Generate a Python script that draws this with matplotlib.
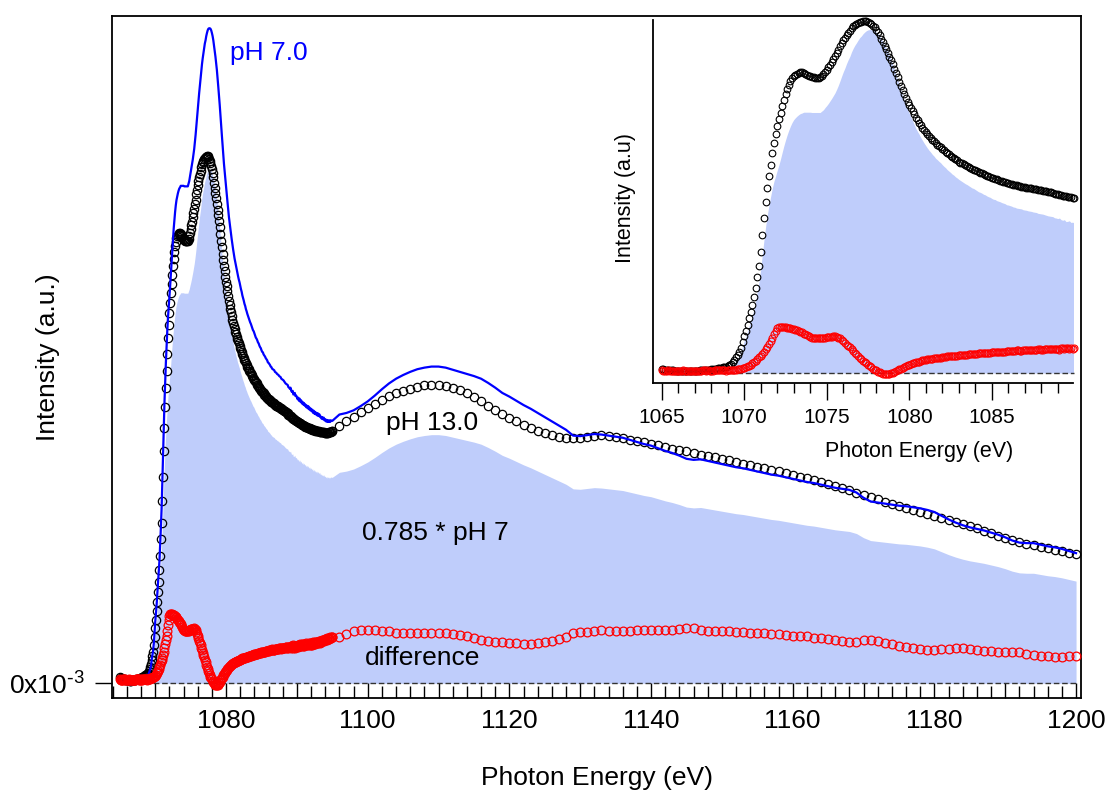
import numpy as np
import matplotlib
matplotlib.use('Agg')
import matplotlib.pyplot as plt
from matplotlib.ticker import MultipleLocator, FuncFormatter

plt.rcParams['font.family'] = ['Liberation Sans', 'DejaVu Sans']
plt.rcParams['mathtext.default'] = 'regular'

# photon energy grid (eV): 0.1 eV steps over the edge, 1 eV steps above 1095 eV
energy = np.round(np.concatenate([
    np.arange(1065.0, 1095.05, 0.1),
    np.arange(1096.0, 1200.5, 1.0),
]), 2)

# pH 13.0 spectrum (normalised to the white line), one row per eV below 1095
ph13 = np.array([
    0.012, 0.011, 0.010, 0.009, 0.009, 0.008, 0.008, 0.008, 0.007, 0.007,  # 1065
    0.006, 0.006, 0.006, 0.006, 0.005, 0.005, 0.005, 0.006, 0.006, 0.006,  # 1066
    0.007, 0.007, 0.007, 0.008, 0.008, 0.009, 0.009, 0.009, 0.010, 0.010,  # 1067
    0.011, 0.011, 0.012, 0.012, 0.013, 0.014, 0.015, 0.016, 0.017, 0.018,  # 1068
    0.020, 0.023, 0.027, 0.031, 0.036, 0.045, 0.052, 0.060, 0.072, 0.088,  # 1069
    0.105, 0.120, 0.137, 0.155, 0.173, 0.193, 0.215, 0.242, 0.273, 0.305,  # 1070
    0.345, 0.392, 0.440, 0.485, 0.525, 0.560, 0.592, 0.625, 0.655, 0.680,  # 1071
    0.703, 0.722, 0.740, 0.758, 0.775, 0.792, 0.806, 0.818, 0.829, 0.838,  # 1072
    0.845, 0.848, 0.851, 0.853, 0.854, 0.854, 0.853, 0.851, 0.848, 0.845,  # 1073
    0.843, 0.841, 0.840, 0.839, 0.839, 0.839, 0.840, 0.844, 0.849, 0.855,  # 1074
    0.862, 0.869, 0.876, 0.884, 0.892, 0.900, 0.909, 0.918, 0.928, 0.937,  # 1075
    0.946, 0.953, 0.960, 0.967, 0.973, 0.980, 0.985, 0.989, 0.992, 0.995,  # 1076
    0.997, 0.998, 0.999, 1.000, 1.000, 0.998, 0.995, 0.992, 0.987, 0.982,  # 1077
    0.976, 0.968, 0.960, 0.950, 0.940, 0.930, 0.920, 0.910, 0.899, 0.888,  # 1078
    0.877, 0.865, 0.852, 0.840, 0.828, 0.815, 0.804, 0.792, 0.782, 0.771,  # 1079
    0.762, 0.753, 0.744, 0.735, 0.726, 0.718, 0.711, 0.704, 0.697, 0.690,  # 1080
    0.684, 0.678, 0.673, 0.667, 0.662, 0.658, 0.653, 0.649, 0.645, 0.641,  # 1081
    0.637, 0.633, 0.629, 0.625, 0.621, 0.618, 0.614, 0.611, 0.607, 0.604,  # 1082
    0.601, 0.598, 0.596, 0.593, 0.590, 0.588, 0.585, 0.583, 0.580, 0.578,  # 1083
    0.576, 0.573, 0.571, 0.569, 0.567, 0.565, 0.563, 0.561, 0.559, 0.557,  # 1084
    0.555, 0.553, 0.552, 0.550, 0.548, 0.547, 0.545, 0.544, 0.542, 0.540,  # 1085
    0.539, 0.538, 0.537, 0.535, 0.534, 0.533, 0.532, 0.531, 0.530, 0.529,  # 1086
    0.528, 0.527, 0.526, 0.526, 0.525, 0.524, 0.523, 0.522, 0.521, 0.520,  # 1087
    0.519, 0.518, 0.517, 0.516, 0.515, 0.514, 0.513, 0.512, 0.510, 0.509,  # 1088
    0.508, 0.507, 0.506, 0.504, 0.503, 0.502, 0.501, 0.500, 0.499, 0.498,  # 1089
    0.497, 0.496, 0.495, 0.494, 0.494, 0.493, 0.492, 0.491, 0.490, 0.490,  # 1090
    0.489, 0.488, 0.487, 0.487, 0.486, 0.485, 0.485, 0.484, 0.484, 0.483,  # 1091
    0.482, 0.482, 0.481, 0.481, 0.480, 0.480, 0.479, 0.479, 0.479, 0.478,  # 1092
    0.478, 0.478, 0.477, 0.477, 0.476, 0.476, 0.476, 0.476, 0.476, 0.475,  # 1093
    0.475, 0.475, 0.475, 0.475, 0.475, 0.476, 0.476, 0.477, 0.477, 0.478,  # 1094
    0.479,                                                                  # 1095
    # 1096 - 1200, 1 eV steps
    0.489, 0.497, 0.505, 0.514, 0.522, 0.530, 0.538, 0.545, 0.550, 0.555,
    0.559, 0.563, 0.566, 0.567, 0.567, 0.565, 0.561, 0.556, 0.550, 0.543,
    0.535, 0.527, 0.519, 0.511, 0.504, 0.497, 0.490, 0.484, 0.479, 0.475,
    0.471, 0.468, 0.466, 0.465, 0.465, 0.467, 0.470, 0.471, 0.469, 0.467,
    0.465, 0.462, 0.460, 0.458, 0.455, 0.452, 0.448, 0.445, 0.442, 0.440,
    0.437, 0.434, 0.431, 0.429, 0.426, 0.423, 0.420, 0.417, 0.414, 0.411,
    0.408, 0.405, 0.402, 0.399, 0.395, 0.392, 0.389, 0.385, 0.382, 0.378,
    0.374, 0.370, 0.366, 0.362, 0.358, 0.353, 0.349, 0.344, 0.340, 0.336,
    0.332, 0.329, 0.325, 0.322, 0.318, 0.314, 0.310, 0.306, 0.302, 0.298,
    0.294, 0.289, 0.285, 0.280, 0.276, 0.272, 0.269, 0.265, 0.262, 0.259,
    0.256, 0.253, 0.251, 0.248, 0.246,
])

# pH 7.0 spectrum, same grid
ph7 = np.array([
    0.006, 0.005, 0.004, 0.003, 0.002, 0.002, 0.001, 0.001, 0.000, 0.000,  # 1065
    0.000, -0.001, -0.001, -0.002, -0.002, -0.002, -0.002, -0.001, -0.001, -0.001,  # 1066
    0.000, 0.000, 0.001, 0.001, 0.001, 0.002, 0.002, 0.003, 0.003, 0.004,  # 1067
    0.005, 0.005, 0.006, 0.006, 0.007, 0.008, 0.009, 0.011, 0.012, 0.014,  # 1068
    0.016, 0.019, 0.023, 0.027, 0.033, 0.045, 0.053, 0.062, 0.076, 0.095,  # 1069
    0.117, 0.132, 0.150, 0.171, 0.190, 0.211, 0.234, 0.264, 0.297, 0.332,  # 1070
    0.378, 0.431, 0.484, 0.532, 0.573, 0.608, 0.639, 0.669, 0.694, 0.713,  # 1071
    0.734, 0.753, 0.775, 0.799, 0.822, 0.843, 0.862, 0.879, 0.894, 0.907,  # 1072
    0.917, 0.924, 0.930, 0.935, 0.939, 0.941, 0.944, 0.944, 0.944, 0.944,  # 1073
    0.944, 0.943, 0.943, 0.943, 0.943, 0.943, 0.943, 0.948, 0.953, 0.961,  # 1074
    0.968, 0.976, 0.985, 0.994, 1.004, 1.014, 1.027, 1.041, 1.057, 1.074,  # 1075
    1.090, 1.104, 1.120, 1.134, 1.146, 1.162, 1.175, 1.186, 1.195, 1.205,  # 1076
    1.214, 1.220, 1.228, 1.234, 1.239, 1.242, 1.243, 1.243, 1.242, 1.239,  # 1077
    1.234, 1.228, 1.220, 1.210, 1.200, 1.189, 1.177, 1.164, 1.149, 1.132,  # 1078
    1.116, 1.098, 1.078, 1.060, 1.041, 1.022, 1.005, 0.986, 0.971, 0.954,  # 1079
    0.940, 0.926, 0.913, 0.899, 0.885, 0.874, 0.864, 0.852, 0.842, 0.832,  # 1080
    0.823, 0.814, 0.806, 0.799, 0.791, 0.785, 0.777, 0.772, 0.766, 0.761,  # 1081
    0.754, 0.748, 0.743, 0.736, 0.731, 0.726, 0.720, 0.716, 0.710, 0.706,  # 1082
    0.701, 0.697, 0.693, 0.689, 0.685, 0.682, 0.678, 0.674, 0.670, 0.668,  # 1083
    0.664, 0.660, 0.656, 0.654, 0.651, 0.647, 0.645, 0.641, 0.638, 0.636,  # 1084
    0.632, 0.629, 0.628, 0.624, 0.622, 0.620, 0.617, 0.615, 0.613, 0.609,  # 1085
    0.608, 0.606, 0.604, 0.601, 0.600, 0.597, 0.596, 0.595, 0.594, 0.591,  # 1086
    0.590, 0.589, 0.587, 0.586, 0.585, 0.583, 0.582, 0.581, 0.578, 0.577,  # 1087
    0.576, 0.575, 0.573, 0.571, 0.569, 0.568, 0.567, 0.566, 0.562, 0.561,  # 1088
    0.559, 0.561, 0.555, 0.553, 0.555, 0.548, 0.549, 0.551, 0.545, 0.546,  # 1089
    0.543, 0.539, 0.542, 0.536, 0.540, 0.534, 0.537, 0.531, 0.534, 0.529,  # 1090
    0.532, 0.527, 0.529, 0.524, 0.527, 0.522, 0.526, 0.520, 0.523, 0.518,  # 1091
    0.521, 0.516, 0.519, 0.513, 0.517, 0.511, 0.515, 0.510, 0.513, 0.508,  # 1092
    0.512, 0.507, 0.510, 0.505, 0.506, 0.502, 0.505, 0.501, 0.504, 0.499,  # 1093
    0.501, 0.497, 0.500, 0.496, 0.499, 0.496, 0.499, 0.496, 0.499, 0.498,  # 1094
    0.498,                                                                  # 1095
    # 1096 - 1200, 1 eV steps
    0.510, 0.513, 0.518, 0.526, 0.535, 0.546, 0.558, 0.569, 0.578, 0.585,
    0.591, 0.596, 0.599, 0.601, 0.601, 0.599, 0.595, 0.591, 0.587, 0.583,
    0.578, 0.570, 0.561, 0.551, 0.544, 0.536, 0.528, 0.521, 0.513, 0.505,
    0.497, 0.489, 0.481, 0.470, 0.469, 0.471, 0.473, 0.472, 0.470, 0.468,
    0.466, 0.462, 0.458, 0.454, 0.451, 0.446, 0.441, 0.437, 0.432, 0.426,
    0.424, 0.425, 0.422, 0.419, 0.416, 0.413, 0.410, 0.408, 0.405, 0.402,
    0.399, 0.396, 0.394, 0.391, 0.388, 0.385, 0.382, 0.380, 0.377, 0.374,
    0.371, 0.369, 0.367, 0.362, 0.352, 0.345, 0.343, 0.341, 0.339, 0.337,
    0.336, 0.334, 0.332, 0.329, 0.325, 0.318, 0.311, 0.305, 0.300, 0.296,
    0.293, 0.290, 0.286, 0.282, 0.277, 0.271, 0.267, 0.266, 0.266, 0.263,
    0.260, 0.258, 0.255, 0.251, 0.247,
])

assert len(energy) == len(ph13) == len(ph7)

scale = 0.785
ph7_scaled = scale * ph7
difference = ph13 - ph7_scaled

fill_color = '#bfcdfb'
blue = '#0000ff'
red = '#ff0000'

fig = plt.figure(figsize=(11.06, 7.94), dpi=100)

# ---- main panel ----
ax = fig.add_axes([0.1013, 0.1213, 0.8761, 0.8589])
ax.fill_between(energy, 0, ph7_scaled, color=fill_color, lw=0, zorder=1)
ax.hlines(0, energy.min(), energy.max(), colors='#333333',
          linestyles=(0, (4, 2)), lw=1, zorder=2)
ax.plot(energy, ph13, 'o', ms=6, mfc='none', mec='black', mew=0.9, zorder=3)
ax.plot(energy, ph7, '-', color=blue, lw=1.6, zorder=4)
ax.plot(energy, difference, 'o', ms=6.3, mfc='none', mec=red, mew=0.9, zorder=5)

ax.set_xlim(1063.9, 1200.7)
ax.set_ylim(-0.0273, 1.2668)

ax.xaxis.set_major_locator(MultipleLocator(10))
ax.xaxis.set_minor_locator(MultipleLocator(2))
ax.xaxis.set_major_formatter(FuncFormatter(
    lambda v, p: f'{v:.0f}' if round(v) % 20 == 0 else ''))
ax.tick_params(axis='x', which='major', direction='in', length=11, width=1,
               labelsize=19, pad=8)
ax.tick_params(axis='x', which='minor', direction='in', length=8.5, width=1)
ax.set_yticks([0])
ax.set_yticklabels([r'0x10$^{\text{-}3}$'])
ax.tick_params(axis='y', direction='out', length=12, width=1, labelsize=19, pad=8)
for s in ax.spines.values():
    s.set_linewidth(1.3)

ax.set_xlabel('Photon Energy (eV)', fontsize=19)
ax.xaxis.set_label_coords(0.5, -0.1)
ax.set_ylabel('Intensity (a.u.)', fontsize=19)
ax.yaxis.set_label_coords(-0.0537, 0.5)

ax.text(1080.56, 1.183, 'pH 7.0', color=blue, fontsize=19, va='baseline')
ax.text(1102.6, 0.481, 'pH 13.0', fontsize=19, va='baseline')
ax.text(1099.2, 0.272, f'{scale} * pH 7', fontsize=19, va='baseline')
ax.text(1099.6, 0.035, 'difference', fontsize=19, va='baseline')

# ---- inset: edge region ----
edge = energy <= 1090
axi = fig.add_axes([0.5904, 0.5173, 0.3802, 0.4575])
axi.fill_between(energy[edge], 0, ph7_scaled[edge], color=fill_color, lw=0, zorder=1)
axi.hlines(0, energy[edge].min(), energy[edge].max(), colors='#333333',
           linestyles=(0, (4, 2)), lw=1, zorder=2, clip_on=False)
axi.plot(energy[edge], ph13[edge], 'o', ms=4.8, mfc='none', mec='black', mew=0.8,
         zorder=3, clip_on=False)
axi.plot(energy[edge], difference[edge], 'o', ms=5, mfc='none', mec=red, mew=0.8,
         zorder=4, clip_on=False)

axi.set_xlim(1064.47, 1089.95)
axi.set_ylim(-0.029, 1.003)
axi.spines['top'].set_visible(False)
axi.spines['right'].set_visible(False)
for s in ('left', 'bottom'):
    axi.spines[s].set_linewidth(1.3)
axi.xaxis.set_major_locator(MultipleLocator(5))
axi.xaxis.set_minor_locator(MultipleLocator(1))
axi.tick_params(axis='x', which='major', direction='out', length=12, width=1,
                labelsize=15, pad=6)
axi.tick_params(axis='x', which='minor', direction='out', length=7, width=1)
axi.set_yticks([])

axi.set_xlabel('Photon Energy (eV)', fontsize=15.5)
axi.xaxis.set_label_coords(0.633, -0.159)
axi.set_ylabel('Intensity (a.u)', fontsize=15.5)
axi.yaxis.set_label_coords(-0.040, 0.51)

fig.savefig('out.png', dpi=100)
